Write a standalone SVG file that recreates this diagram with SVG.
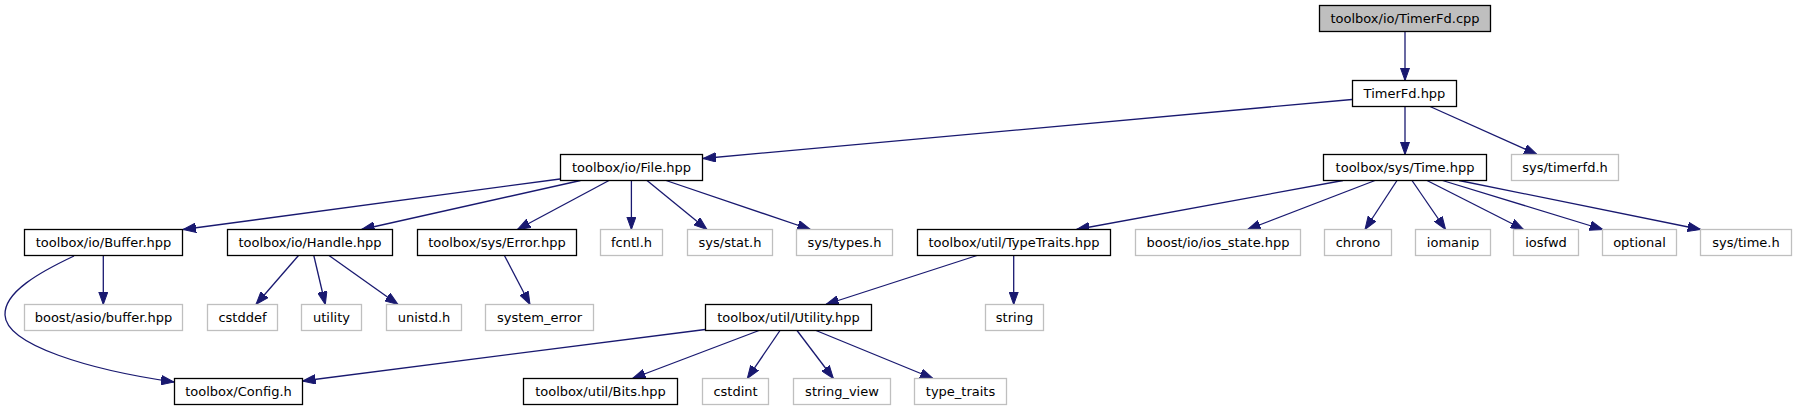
<svg xmlns="http://www.w3.org/2000/svg" width="1797" height="411" viewBox="0 0 1797 411">
<style>
.n rect{fill:#ffffff;stroke:#000000;stroke-width:1.3}
.g rect{fill:#ffffff;stroke:#bfbfbf;stroke-width:1.3}
.r rect{fill:#bfbfbf;stroke:#000000;stroke-width:1.3}
text{font-family:"DejaVu Sans","Liberation Sans",sans-serif;font-size:13px;fill:#000000;text-anchor:middle}
#edges path{fill:none;stroke:#191970;stroke-width:1.3;marker-end:url(#ah)}
</style>
<defs>
<marker id="ah" viewBox="0 0 13 10" refX="13" refY="5" markerWidth="13" markerHeight="10" markerUnits="userSpaceOnUse" orient="auto">
<path d="M0,0.3 L13,5 L0,9.7 z" fill="#191970" stroke="#191970" stroke-width="1"/>
</marker>
</defs>
<rect width="1797" height="411" fill="#ffffff"/>
<g id="edges">
<path d="M1405,31.5 L1405,80.5"/>
<path d="M1352,99.5 L703,158.5"/>
<path d="M1405,106.5 L1405,154.5"/>
<path d="M1430,106.5 L1537,154.5"/>
<path d="M560,179 L183,229.5"/>
<path d="M580.5,180.5 L361.6,229.5"/>
<path d="M609,180.5 L517.4,229.5"/>
<path d="M631.4,180.5 L631.4,229.5"/>
<path d="M647,180.5 L707,229.5"/>
<path d="M666,180.5 L810.5,229.5"/>
<path d="M1343,180.5 L1076.4,229.5"/>
<path d="M1375,180.5 L1247.6,229.5"/>
<path d="M1397,180.5 L1365,229.5"/>
<path d="M1412,180.5 L1445.6,229.5"/>
<path d="M1427,180.5 L1523.6,229.5"/>
<path d="M1442.5,180.5 L1602.8,229.5"/>
<path d="M1459,180.5 L1700.7,229.5"/>
<path d="M103.3,255.5 L103.3,304.5"/>
<path d="M74,256 C40,272 4,292 5,315 C6,345 90,370 174,382"/>
<path d="M298.5,255.5 L256,304.5"/>
<path d="M313.8,255.5 L325.3,304.5"/>
<path d="M329,255.5 L398,304.5"/>
<path d="M504.4,255.5 L530,304.5"/>
<path d="M977,255.5 L825.8,304.5"/>
<path d="M1013.7,255.5 L1013.7,304.5"/>
<path d="M705.2,329.5 L302.5,381"/>
<path d="M759,330.5 L632.5,378.5"/>
<path d="M780,330.5 L747.3,378.5"/>
<path d="M797,330.5 L833.4,378.5"/>
<path d="M816,330.5 L933,378.5"/>
</g>
<g id="n_timerfd_cpp" class="r"><rect x="1319.5" y="5.5" width="171" height="26"/><text x="1405" y="23">toolbox/io/TimerFd.cpp</text></g>
<g id="n_timerfd_hpp" class="n"><rect x="1352.5" y="80.5" width="104" height="26"/><text x="1404.5" y="98">TimerFd.hpp</text></g>
<g id="n_file" class="n"><rect x="560.5" y="154.5" width="142" height="26"/><text x="631.5" y="172">toolbox/io/File.hpp</text></g>
<g id="n_time" class="n"><rect x="1323.5" y="154.5" width="163" height="26"/><text x="1405" y="172">toolbox/sys/Time.hpp</text></g>
<g id="n_sys_timerfd" class="g"><rect x="1511.5" y="154.5" width="107" height="26"/><text x="1565" y="172">sys/timerfd.h</text></g>
<g id="n_buffer" class="n"><rect x="24.5" y="229.5" width="158" height="26"/><text x="103.5" y="247">toolbox/io/Buffer.hpp</text></g>
<g id="n_handle" class="n"><rect x="227.5" y="229.5" width="165" height="26"/><text x="310" y="247">toolbox/io/Handle.hpp</text></g>
<g id="n_error" class="n"><rect x="417.5" y="229.5" width="159" height="26"/><text x="497" y="247">toolbox/sys/Error.hpp</text></g>
<g id="n_fcntl" class="g"><rect x="600.5" y="229.5" width="62" height="26"/><text x="631.5" y="247">fcntl.h</text></g>
<g id="n_stat" class="g"><rect x="687.5" y="229.5" width="85" height="26"/><text x="730" y="247">sys/stat.h</text></g>
<g id="n_types" class="g"><rect x="796.5" y="229.5" width="96" height="26"/><text x="844.5" y="247">sys/types.h</text></g>
<g id="n_typetraits" class="n"><rect x="917.5" y="229.5" width="193" height="26"/><text x="1014" y="247">toolbox/util/TypeTraits.hpp</text></g>
<g id="n_ios_state" class="g"><rect x="1135.5" y="229.5" width="165" height="26"/><text x="1218" y="247">boost/io/ios_state.hpp</text></g>
<g id="n_chrono" class="g"><rect x="1324.5" y="229.5" width="67" height="26"/><text x="1358" y="247">chrono</text></g>
<g id="n_iomanip" class="g"><rect x="1415.5" y="229.5" width="75" height="26"/><text x="1453" y="247">iomanip</text></g>
<g id="n_iosfwd" class="g"><rect x="1513.5" y="229.5" width="65" height="26"/><text x="1546" y="247">iosfwd</text></g>
<g id="n_optional" class="g"><rect x="1602.5" y="229.5" width="74" height="26"/><text x="1639.5" y="247">optional</text></g>
<g id="n_sys_time" class="g"><rect x="1700.5" y="229.5" width="91" height="26"/><text x="1746" y="247">sys/time.h</text></g>
<g id="n_asio_buffer" class="g"><rect x="24.5" y="304.5" width="158" height="26"/><text x="103.5" y="322">boost/asio/buffer.hpp</text></g>
<g id="n_cstddef" class="g"><rect x="207.5" y="304.5" width="70" height="26"/><text x="242.5" y="322">cstddef</text></g>
<g id="n_utility" class="g"><rect x="301.5" y="304.5" width="60" height="26"/><text x="331.5" y="322">utility</text></g>
<g id="n_unistd" class="g"><rect x="386.5" y="304.5" width="75" height="26"/><text x="424" y="322">unistd.h</text></g>
<g id="n_system_error" class="g"><rect x="485.5" y="304.5" width="108" height="26"/><text x="539.5" y="322">system_error</text></g>
<g id="n_utility_hpp" class="n"><rect x="705.5" y="304.5" width="166" height="26"/><text x="788.5" y="322">toolbox/util/Utility.hpp</text></g>
<g id="n_string" class="g"><rect x="985.5" y="304.5" width="58" height="26"/><text x="1014.5" y="322">string</text></g>
<g id="n_config" class="n"><rect x="174.5" y="378.5" width="128" height="26"/><text x="238.5" y="396">toolbox/Config.h</text></g>
<g id="n_bits" class="n"><rect x="523.5" y="378.5" width="154" height="26"/><text x="600.5" y="396">toolbox/util/Bits.hpp</text></g>
<g id="n_cstdint" class="g"><rect x="702.5" y="378.5" width="66" height="26"/><text x="735.5" y="396">cstdint</text></g>
<g id="n_string_view" class="g"><rect x="793.5" y="378.5" width="97" height="26"/><text x="842" y="396">string_view</text></g>
<g id="n_type_traits" class="g"><rect x="914.5" y="378.5" width="92" height="26"/><text x="960.5" y="396">type_traits</text></g>
</svg>
